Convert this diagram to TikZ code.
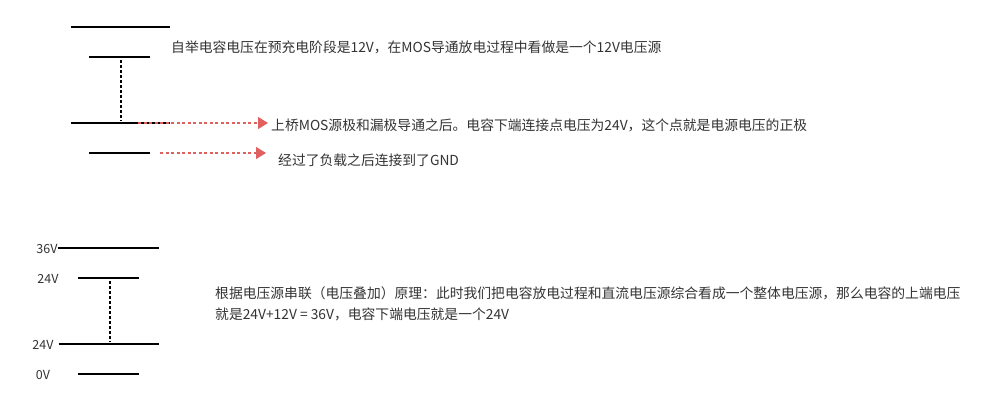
\documentclass[tikz,border=0pt]{standalone}
\usepackage{fontspec}
\setmainfont{Noto Sans CJK SC}
\usetikzlibrary{arrows.meta}
\definecolor{txt}{HTML}{333333}
\definecolor{arr}{HTML}{E06060}
\tikzset{
  plate/.style={line width=1.6pt, black},
  vdots/.style={line width=1.6pt, black, dash pattern=on 2.5pt off 2.5pt},
  redarrow/.style={line width=1.4pt, arr, dash pattern=on 3pt off 2.5pt, -{Triangle[length=10pt,width=12pt]}},
  note/.style={anchor=west, inner sep=0pt, text=txt, font=\fontsize{13.8}{21}\selectfont},
  lbl/.style={anchor=center, inner sep=0pt, text=txt, font=\fontsize{12.5}{15}\selectfont}
}
\begin{document}
\begin{tikzpicture}[x=1pt,y=-1pt]
\useasboundingbox (0,0) rectangle (990,408);
% top group
\coordinate (a1) at (71,27);  \coordinate (a2) at (170,27);
\coordinate (b1) at (89,57);  \coordinate (b2) at (150,57);
\coordinate (c1) at (71,123); \coordinate (c2) at (170,123);
\coordinate (d1) at (89,153); \coordinate (d2) at (150,153);
\draw[plate] (a1) -- (a2);
\draw[plate] (b1) -- (b2);
\draw[plate] (c1) -- (c2);
\draw[plate] (d1) -- (d2);
\coordinate (v1) at (121,60); \coordinate (v2) at (121,121);
\draw[vdots] (v1) -- (v2);
\node[note] (t1) at (171,47) {自举电容电压在预充电阶段是12V，在MOS导通放电过程中看做是一个12V电压源};
\node[note] (t2) at (271,125) {上桥MOS源极和漏极导通之后。电容下端连接点电压为24V，这个点就是电源电压的正极};
\node[note] (t3) at (278,160) {经过了负载之后连接到了GND};
\coordinate (r1s) at (138,123); \coordinate (r1e) at (268,123);
\coordinate (r2s) at (160,153); \coordinate (r2e) at (266,153);
\draw[redarrow] (r1s) -- (r1e);
\draw[redarrow] (r2s) -- (r2e);
% bottom group
\node[lbl] (l36) at (47,249) {36V};
\node[lbl] (l24a) at (48,279) {24V};
\node[lbl] (l24b) at (43,345) {24V};
\node[lbl] (l0) at (43,375) {0V};
\coordinate (e2) at (159,248);
\coordinate (f1) at (78,278); \coordinate (f2) at (139,278);
\coordinate (g2) at (159,344);
\coordinate (h1) at (78,374); \coordinate (h2) at (139,374);
\draw[plate] (l36.east |- e2) -- (e2);
\draw[plate] ([xshift=5pt]l24b.east |- g2) -- (g2);
\draw[plate] (f1) -- (f2);
\draw[plate] (h1) -- (h2);
\coordinate (w1) at (110,281); \coordinate (w2) at (110,342);
\draw[vdots] (w1) -- (w2);
\node[note, align=left, anchor=north west] (t4) at (215,286) {根据电压源串联（电压叠加）原理：此时我们把电容放电过程和直流电压源综合看成一个整体电压源，那么电容的上端电压\\就是24V+12V = 36V，电容下端电压就是一个24V};
\end{tikzpicture}
\end{document}
